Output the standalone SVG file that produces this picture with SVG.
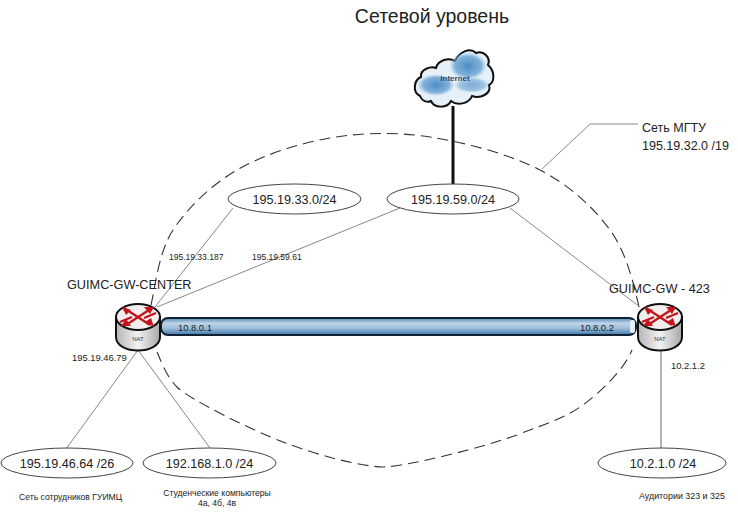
<svg xmlns="http://www.w3.org/2000/svg" width="738" height="513" viewBox="0 0 738 513">
<defs>
<linearGradient id="tube" x1="0" y1="0" x2="0" y2="1"><stop offset="0" stop-color="#4f84b5"/><stop offset="0.3" stop-color="#bdd4e8"/><stop offset="0.6" stop-color="#9dbfdc"/><stop offset="1" stop-color="#3f77a8"/></linearGradient>
<linearGradient id="side" x1="0" y1="0" x2="1" y2="0"><stop offset="0" stop-color="#b5b5b5"/><stop offset="0.5" stop-color="#f2f2f2"/><stop offset="1" stop-color="#a8a8a8"/></linearGradient>
<radialGradient id="puff"><stop offset="0" stop-color="#4b8cc4"/><stop offset="0.7" stop-color="#6fa6d4" stop-opacity="0.85"/><stop offset="1" stop-color="#9cc3e4" stop-opacity="0"/></radialGradient>
<g id="router">
<path d="M-22,-11 V9 C-22,27 22,27 22,9 V-11 Z" fill="url(#side)" stroke="#111" stroke-width="2"/>
<ellipse cx="0" cy="-11" rx="22" ry="13" fill="#f3eeee" stroke="#111" stroke-width="2"/>
<g stroke="#c3161c" stroke-width="2.4" fill="none">
<path d="M-14,-20 L12,-3"/><path d="M14,-20 L-12,-3"/><path d="M-18,-6 L-6,-11"/><path d="M18,-15 L6,-10"/>
</g>
<g fill="#c3161c">
<path d="M16,-21 L6,-21 L12,-14 Z"/><path d="M-17,-2 L-7,-2 L-12,-9 Z"/><path d="M16,-1 L7,-6 L13,-10 Z"/><path d="M-16,-21 L-7,-18 L-12,-13 Z"/>
</g>
<text x="0" y="13" class="nat" text-anchor="middle">NAT</text>
</g>
</defs>
<style>
text{font-family:"Liberation Sans",Arial,sans-serif;fill:#222}
.net{fill:#fff;stroke:#444;stroke-width:1}
.lbl{font-size:12.6px}
.ip{font-size:8.5px}
.ip2{font-size:9.4px}
.cap{font-size:8.6px}
.dev{font-size:12.7px}
.nat{font-size:6px;fill:#333}
.thin{fill:none;stroke:#888;stroke-width:1}
.dash{fill:none;stroke:#333;stroke-width:1.1;stroke-dasharray:11 6}
</style>
<text x="432" y="23" text-anchor="middle" font-size="19.5" id="title">Сетевой уровень</text>

<g id="connectors">
<path class="dash" d="M151,305 C155,288 158.7,251.7 173,230 C187.3,208.3 211,185 237,170 C263,155 298,143.5 330,138 C362,132.5 395,131.7 430,137 C465,142.3 510,154.5 540,170 C570,185.5 593.5,207.5 610,230 C626.5,252.5 634,285 639,307"/>
<path class="dash" d="M157,352 C160,358 165,375 177,387 C189,399 249,429 283,442 C317,455 358,466 383,467 C410,466 484,447 517,435 C544,424 564,419 583,405 C602,391 625,368 632,350"/>
<path class="thin" d="M542,169 L590,124 L638,124"/>
<path class="thin" d="M155,307 L233,208"/>
<path class="thin" d="M157,307 L400,208"/>
<path class="thin" d="M510,208 L640,307"/>
<path class="thin" d="M138,350 L66,449"/>
<path class="thin" d="M138,350 L210,448"/>
<path d="M661,350 V449" fill="none" stroke="#666" stroke-width="1"/>
<path d="M453,106 V185" fill="none" stroke="#111" stroke-width="3"/>
<rect x="161" y="318" width="475" height="17" rx="7" fill="url(#tube)" stroke="#123" stroke-width="2"/>
<rect x="630" y="320" width="5" height="13" rx="2" fill="#e8f0f7"/>
</g>

<g id="internet">
<path d="M420,96 C412,92 414,80 421,77 C420,69 431,66 436,68 C438,60 449,57 455,61 C459,52 470,47 476,53 C484,50 491,58 488,65 C495,71 495,82 489,85 C492,94 480,99 472,96 C469,104 457,106 451,101 C447,109 434,108 431,101 C427,103 422,101 420,96 Z" fill="#e6f0f8" stroke="#111" stroke-width="2"/>
<ellipse cx="436" cy="85" rx="19" ry="11" fill="url(#puff)"/>
<ellipse cx="468" cy="66" rx="19" ry="14" fill="url(#puff)"/>
<ellipse cx="472" cy="85" rx="18" ry="8" fill="url(#puff)" opacity="0.7"/>
<text x="455" y="81" text-anchor="middle" font-size="8" font-weight="bold" style="fill:#2f4a66">Internet</text>
</g>

<g id="net-33"><ellipse class="net" cx="294.500" cy="199" rx="66.500" ry="15"/><text class="lbl" x="294.500" y="203.500" text-anchor="middle">195.19.33.0/24</text></g>
<g id="net-59"><ellipse class="net" cx="453" cy="199" rx="66" ry="15"/><text class="lbl" x="453" y="203.500" text-anchor="middle">195.19.59.0/24</text></g>
<g id="net-46"><ellipse class="net" cx="67" cy="463" rx="66" ry="15"/><text class="lbl" x="67" y="467.500" text-anchor="middle">195.19.46.64 /26</text></g>
<g id="net-192"><ellipse class="net" cx="209.500" cy="463" rx="66.500" ry="15"/><text class="lbl" x="209.500" y="467.500" text-anchor="middle">192.168.1.0 /24</text></g>
<g id="net-10"><ellipse class="net" cx="662" cy="463" rx="64" ry="15"/><text class="lbl" x="663" y="467.500" text-anchor="middle">10.2.1.0 /24</text></g>

<g id="gw-center"><use href="#router" x="138" y="328"/><text class="dev" x="67" y="288.500">GUIMC-GW-CENTER</text><text class="ip2" x="72" y="361">195.19.46.79</text></g>
<g id="gw-423"><use href="#router" x="660" y="328"/><text class="dev" x="609" y="293">GUIMC-GW - 423</text><text class="ip2" x="671" y="369">10.2.1.2</text></g>

<g id="labels">
<text class="ip" x="169" y="260">195.19.33.187</text>
<text class="ip" x="252" y="260">195.19.59.61</text>
<text class="ip2" x="178" y="331">10.8.0.1</text>
<text class="ip2" x="580" y="331">10.8.0.2</text>
<text font-size="12.5" x="642" y="132">Сеть МГТУ</text>
<text font-size="12.5" x="642" y="150">195.19.32.0 /19</text>
<text class="cap" x="19" y="500">Сеть сотрудников ГУИМЦ</text>
<text class="cap" x="217" y="496" text-anchor="middle">Студенческие компьютеры</text>
<text class="cap" x="217" y="506" text-anchor="middle">4а, 4б, 4в</text>
<text style="font-size:8.900px" x="639" y="499">Аудитории 323 и 325</text>
</g>
</svg>
